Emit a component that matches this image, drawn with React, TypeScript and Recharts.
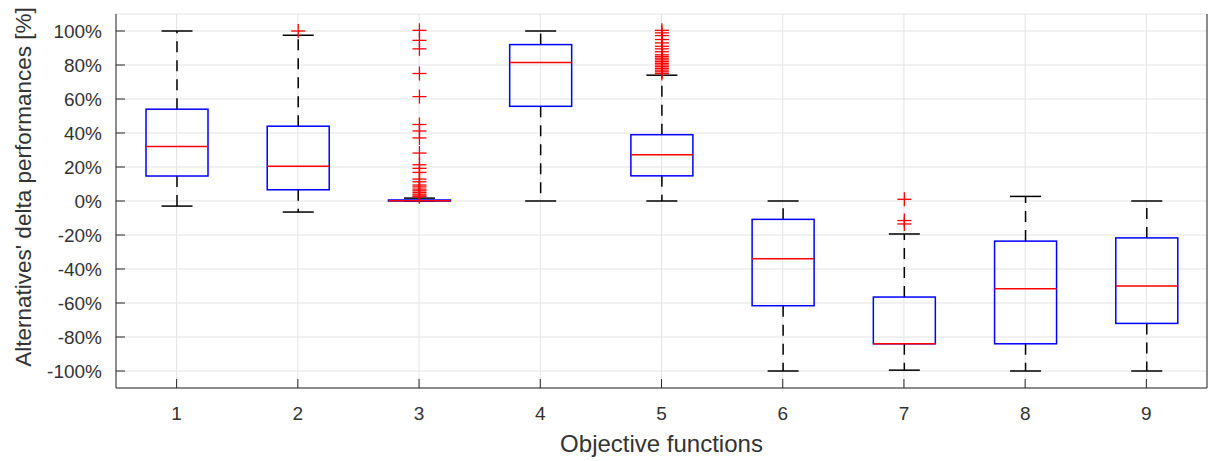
import { Bar, CartesianGrid, ComposedChart, Label, XAxis, YAxis } from "recharts";

// ── Box plot statistics (values in %) ──────────────────────────────────────────

const categories = ["1", "2", "3", "4", "5", "6", "7", "8", "9"];
const whiskerLow = [-3, -6.5, 0, 0, 0, -100, -99.5, -100, -100];
const q1 = [14.7, 6.6, 0, 55.7, 14.8, -61.6, -84, -84, -72];
const median = [32, 20.5, 0.2, 81.5, 27.2, -34, -84, -51.6, -50];
const q3 = [54, 44, 0.6, 92, 39, -10.8, -56.5, -23.6, -21.7];
const whiskerHigh = [100, 97.5, 1.7, 100, 74, 0, -19.4, 2.7, 0];
const outliers: number[][] = [
  [],
  [100],
  [100.4, 94.5, 89.5, 75, 61.4, 45, 41.2, 37.1, 28.2, 21.3, 19.2, 16.8, 12.9, 11.3, 9.4, 8.3, 7, 6, 5, 4, 3, 2.5],
  [],
  [100.4, 98.9, 97.3, 95, 93, 91, 89.5, 87.8, 86, 85, 84, 83, 82, 81, 80, 79, 78, 77, 76, 75],
  [],
  [1, -11.5, -13.5],
  [],
  [],
];
const yTicks = [-100, -80, -60, -40, -20, 0, 20, 40, 60, 80, 100];

const data = categories.map((name, i) => ({
  name,
  lo: whiskerLow[i],
  q1: q1[i],
  med: median[i],
  q3: q3[i],
  hi: whiskerHigh[i],
  out: outliers[i],
  range: [whiskerLow[i], whiskerHigh[i]],
}));

const AXIS = "#262626";
const FONT = "'Liberation Sans', Arial, Helvetica, sans-serif";

// whole box is drawn from the bar rectangle that spans the whisker range
function BoxShape(props: any) {
  const { x, y, width, height, payload } = props;
  const { lo, hi } = payload;
  const k = height / (hi - lo);
  const py = (v: number) => y + (hi - v) * k;
  const cx = x + width / 2;
  const cap = width / 4;
  return (
    <g>
      <line x1={cx} x2={cx} y1={py(payload.q3)} y2={py(hi)} stroke="#000" strokeWidth={1.5} strokeDasharray="11 8" />
      <line x1={cx} x2={cx} y1={py(payload.q1)} y2={py(lo)} stroke="#000" strokeWidth={1.5} strokeDasharray="11 8" />
      <line x1={cx - cap} x2={cx + cap} y1={py(hi)} y2={py(hi)} stroke="#000" strokeWidth={1.5} />
      <line x1={cx - cap} x2={cx + cap} y1={py(lo)} y2={py(lo)} stroke="#000" strokeWidth={1.5} />
      <rect x={x} y={py(payload.q3)} width={width} height={Math.max(py(payload.q1) - py(payload.q3), 0.5)} fill="none" stroke="#0000ff" strokeWidth={1.5} />
      <line x1={x} x2={x + width} y1={py(payload.med)} y2={py(payload.med)} stroke="#ff0000" strokeWidth={1.5} />
      {payload.out.map((v: number, j: number) => (
        <g key={j} stroke="#ff0000" strokeWidth={1.3}>
          <line x1={cx - 7} x2={cx + 7} y1={py(v)} y2={py(v)} />
          <line x1={cx} x2={cx} y1={py(v) - 7} y2={py(v) + 7} />
        </g>
      ))}
    </g>
  );
}

const noTick = () => <g />;

export default function App() {
  return (
    <div style={{ position: "absolute", left: 0, top: 0, background: "#fff" }}>
      <ComposedChart width={1208} height={461} data={data} margin={{ top: 14, right: 0, bottom: 0, left: 0 }}>
        <CartesianGrid stroke="#e3e3e3" strokeWidth={1} />
        <XAxis
          dataKey="name"
          type="category"
          height={73}
          stroke={AXIS}
          tickSize={-9}
          tickMargin={28}
          tick={{ fill: "#333", fontSize: 19, fontFamily: FONT }}
        >
          <Label
            content={({ viewBox }: any) => (
              <text x={viewBox.x + viewBox.width / 2} y={viewBox.y + 64} textAnchor="middle" fill="#333" fontSize={24} fontFamily={FONT}>
                Objective functions
              </text>
            )}
          />
        </XAxis>
        <XAxis xAxisId="top" dataKey="name" type="category" orientation="top" height={0} stroke={AXIS} tickSize={-9} tick={noTick} />
        <YAxis
          type="number"
          domain={[-110, 110]}
          ticks={yTicks}
          width={116}
          stroke={AXIS}
          tickSize={-9}
          tickMargin={23}
          tickFormatter={(v: number) => `${v}%`}
          tick={{ fill: "#333", fontSize: 19, fontFamily: FONT }}
        >
          <Label
            content={() => (
              <text x={31} y={187} textAnchor="middle" transform="rotate(-90 31 187)" fill="#333" fontSize={22.5} fontFamily={FONT}>
                Alternatives' delta performances [%]
              </text>
            )}
          />
        </YAxis>
        <YAxis yAxisId="right" type="number" orientation="right" domain={[-110, 110]} ticks={yTicks} width={1} stroke={AXIS} tickSize={-9} tick={noTick} />
        <Bar dataKey="range" barSize={62} shape={BoxShape} isAnimationActive={false} />
      </ComposedChart>
    </div>
  );
}
